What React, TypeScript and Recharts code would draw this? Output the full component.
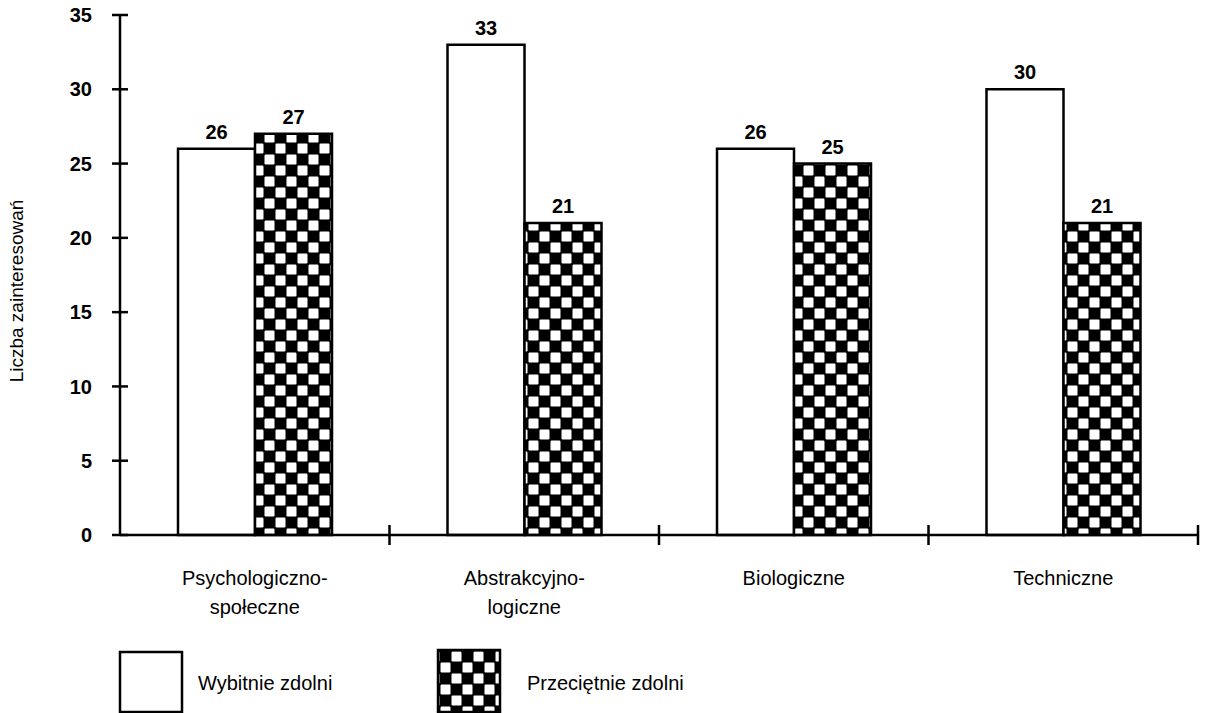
import { BarChart, Bar, XAxis, YAxis, LabelList, Legend, Label } from "recharts";

const categories = ["Psychologiczno-\nspołeczne", "Abstrakcyjno-\nlogiczne", "Biologiczne", "Techniczne"];
const wybitnie = [26, 33, 26, 30];
const przecietnie = [27, 21, 25, 21];
const yTicks = [0, 5, 10, 15, 20, 25, 30, 35];
const seriesNames = ["Wybitnie zdolni", "Przeciętnie zdolni"];

const data = categories.map((name, i) => ({
  name,
  wybitnie: wybitnie[i],
  przecietnie: przecietnie[i],
}));

const W = 1207;
const H = 713;
const LEFT = 120;
const RIGHT = 9;
const BAND = (W - LEFT - RIGHT) / categories.length;
const FONT = "'Liberation Sans', Arial, Helvetica, sans-serif";

function YTick(props: any) {
  const { x, y, payload } = props;
  return (
    <g>
      <line x1={x - 8} x2={x + 8} y1={y} y2={y} stroke="#000" strokeWidth={2.5} />
      <text x={x - 28} y={y} dy="0.36em" textAnchor="end" fontSize={20} fontWeight="bold" fontFamily={FONT} fill="#000">
        {payload.value}
      </text>
    </g>
  );
}

function XTick(props: any) {
  const { x, y, payload } = props;
  const lines = String(payload.value).split("\n");
  return (
    <g>
      <line x1={x + BAND / 2} x2={x + BAND / 2} y1={y - 10} y2={y + 10} stroke="#000" strokeWidth={2.5} />
      {lines.map((l, i) => (
        <text key={i} x={x} y={y + 50 + i * 29} textAnchor="middle" fontSize={20} fontFamily={FONT} fill="#000">
          {l}
        </text>
      ))}
    </g>
  );
}

function LegendBox() {
  return (
    <svg width={700} height={73} style={{ display: "block" }}>
      <rect x={120} y={12} width={62} height={60} fill="#fff" stroke="#000" strokeWidth={2.5} />
      <text x={198} y={50} fontSize={20} fontFamily={FONT} fill="#000">{seriesNames[0]}</text>
      <rect x={438} y={10} width={62} height={62} fill="url(#checker)" stroke="#000" strokeWidth={2.5} />
      <text x={527} y={50} fontSize={20} fontFamily={FONT} fill="#000">{seriesNames[1]}</text>
    </svg>
  );
}

function YLabel(props: any) {
  const { viewBox } = props;
  const cx = viewBox.x + 16;
  const cy = viewBox.y + viewBox.height / 2 + 16;
  return (
    <text transform={`translate(${cx},${cy}) rotate(-90)`} textAnchor="middle" dy="0.36em" fontSize={19} fontFamily={FONT} fill="#000">
      Liczba zainteresowań
    </text>
  );
}

export default function App() {
  return (
    <div style={{ position: "absolute", left: 0, top: 0, width: W, height: H, background: "#fff" }}>
      <BarChart
        width={W}
        height={H}
        data={data}
        margin={{ top: 15, right: RIGHT, left: 0, bottom: 118 }}
        barGap={0}
        barSize={77}
      >
        <defs>
          <pattern id="checker" patternUnits="userSpaceOnUse" width={22} height={22}>
            <rect width={22} height={22} fill="#000" />
            <rect x={0.5} y={0.5} width={10} height={10} rx={1.2} fill="#fff" />
            <rect x={11.5} y={11.5} width={10} height={10} rx={1.2} fill="#fff" />
          </pattern>
        </defs>
        <XAxis
          dataKey="name"
          height={60}
          tickSize={0}
          tickMargin={0}
          tickLine={false}
          axisLine={{ stroke: "#000", strokeWidth: 2.5 }}
          tick={<XTick />}
          interval={0}
        />
        <XAxis xAxisId="top" orientation="top" height={0} tick={false} tickLine={false} axisLine={{ stroke: "#000", strokeWidth: 2 }} />
        <YAxis
          domain={[0, 35]}
          ticks={yTicks}
          width={LEFT}
          tickSize={0}
          tickMargin={0}
          tickLine={false}
          axisLine={{ stroke: "#000", strokeWidth: 2.5 }}
          tick={<YTick />}
          interval={0}
        >
          <Label content={<YLabel />} />
        </YAxis>
        <YAxis yAxisId="right" orientation="right" width={0} tick={false} tickLine={false} axisLine={{ stroke: "#000", strokeWidth: 2 }} />
        <Legend
          layout="horizontal"
          verticalAlign="middle"
          content={<LegendBox />}
          wrapperStyle={{ position: "absolute", left: 0, top: 640, width: 700, height: 73 }}
        />
        <Bar dataKey="wybitnie" name={seriesNames[0]} fill="#fff" stroke="#000" strokeWidth={2.5} isAnimationActive={false}>
          <LabelList dataKey="wybitnie" position="top" offset={10} fontSize={20} fontWeight="bold" fontFamily={FONT} fill="#000" />
        </Bar>
        <Bar dataKey="przecietnie" name={seriesNames[1]} fill="url(#checker)" stroke="#000" strokeWidth={2.5} isAnimationActive={false}>
          <LabelList dataKey="przecietnie" position="top" offset={10} fontSize={20} fontWeight="bold" fontFamily={FONT} fill="#000" />
        </Bar>
      </BarChart>
    </div>
  );
}
